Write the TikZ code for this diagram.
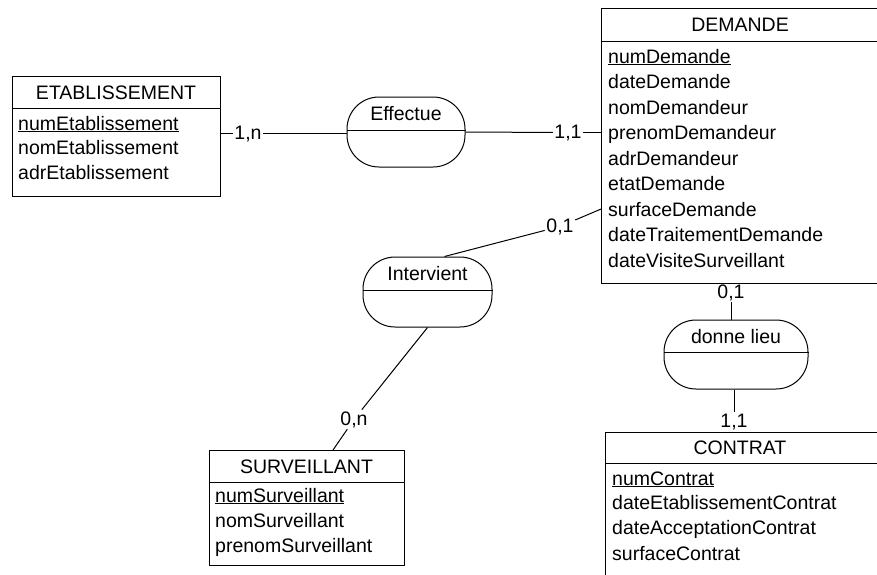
\documentclass[tikz,border=0pt]{standalone}
\usepackage{fontspec}
\setmainfont{Liberation Sans}
\newcommand{\erfont}{\fontsize{19.5}{22}\selectfont}
\tikzset{
  ent/.style={draw, line width=1pt, rectangle, anchor=north west, inner sep=0pt},
  assoc/.style={draw, line width=1pt, rectangle, rounded corners=32pt, inner sep=0pt},
  ttl/.style={anchor=base, inner sep=0pt, font=\erfont},
  attr/.style={anchor=base west, inner sep=0pt, font=\erfont},
  card/.style={anchor=base, inner sep=1.5pt, font=\erfont},
  conn/.style={line width=1pt},
  sep/.style={line width=1pt}
}
\begin{document}
\begin{tikzpicture}[x=1pt,y=-1pt]
\useasboundingbox (0,0) rectangle (877,574);
\clip (0,0) rectangle (877,574);

% ETABLISSEMENT
\node[ent, minimum width=208pt, minimum height=120pt] (etab) at (12,76) {};
\draw[sep] ([yshift=-32pt]etab.north west) -- ([yshift=-32pt]etab.north east);
\node[ttl] (etabT) at (116,99) {ETABLISSEMENT};
\node[attr] (etabA1) at (18,130) {\underline{numEtablissement}};
\node[attr] (etabA2) at (18,154.5) {nomEtablissement};
\node[attr] (etabA3) at (18,179) {adrEtablissement};

% DEMANDE
\node[ent, minimum width=279pt, minimum height=275pt] (dem) at (601,8) {};
\draw[sep] ([yshift=-33pt]dem.north west) -- ([yshift=-33pt]dem.north east);
\node[ttl] (demT) at (740,31) {DEMANDE};
\node[attr] (demA1) at (608,63) {\underline{numDemande}};
\node[attr] (demA2) at (608,88.5) {dateDemande};
\node[attr] (demA3) at (608,114) {nomDemandeur};
\node[attr] (demA4) at (608,139.5) {prenomDemandeur};
\node[attr] (demA5) at (608,165) {adrDemandeur};
\node[attr] (demA6) at (608,190.5) {etatDemande};
\node[attr] (demA7) at (608,216) {surfaceDemande};
\node[attr] (demA8) at (608,241.5) {dateTraitementDemande};
\node[attr] (demA9) at (608,267) {dateVisiteSurveillant};

% SURVEILLANT
\node[ent, minimum width=195pt, minimum height=115pt] (surv) at (209,450) {};
\draw[sep] ([yshift=-32pt]surv.north west) -- ([yshift=-32pt]surv.north east);
\node[ttl] (survT) at (306.5,473) {SURVEILLANT};
\node[attr] (survA1) at (215,502) {\underline{numSurveillant}};
\node[attr] (survA2) at (215,527) {nomSurveillant};
\node[attr] (survA3) at (215,552) {prenomSurveillant};

% CONTRAT
\node[ent, minimum width=275pt, minimum height=170pt] (con) at (605,432) {};
\draw[sep] ([yshift=-31pt]con.north west) -- ([yshift=-31pt]con.north east);
\node[ttl] (conT) at (740,454) {CONTRAT};
\node[attr] (conA1) at (612,485) {\underline{numContrat}};
\node[attr] (conA2) at (612,509.5) {dateEtablissementContrat};
\node[attr] (conA3) at (612,534.5) {dateAcceptationContrat};
\node[attr] (conA4) at (612,560) {surfaceContrat};

% Associations
\node[assoc, minimum width=118pt, minimum height=70pt] (eff) at (406,132) {};
\draw[sep] ([yshift=2pt]eff.west) -- ([yshift=2pt]eff.east);
\node[ttl] (effT) at (406,120) {Effectue};

\node[assoc, minimum width=129pt, minimum height=70pt] (int) at (427.5,292) {};
\draw[sep] ([yshift=2pt]int.west) -- ([yshift=2pt]int.east);
\node[ttl] (intT) at (427.5,280) {Intervient};

\node[assoc, minimum width=144pt, minimum height=69pt] (don) at (736,354.5) {};
\draw[sep] ([yshift=2.5pt]don.west) -- ([yshift=2.5pt]don.east);
\node[ttl] (donT) at (736,343) {donne lieu};

% Cardinalities
\node[card] (l1n) at (248,139) {1,n};
\node[card] (l11a) at (568,138) {1,1};
\node[card] (l01a) at (560,232) {0,1};
\node[card] (l0n) at (354,425) {0,n};
\node[card] (l01b) at (731,298) {0,1};
\node[card] (l11b) at (734,427) {1,1};

% Connectors
\draw[conn] (etab.east |- l1n) -- (l1n);
\draw[conn] (l1n) -- (eff.west |- l1n);
\draw[conn] (eff.east) -- (l11a);
\draw[conn] (l11a) -- (dem.west |- l11a);
\draw[conn] ([xshift=17pt]int.north) -- (l01a);
\draw[conn] (l01a) -- (dem.west |- demA7);
\draw[conn] (int.south) -- (l0n);
\draw[conn] (l0n) -- ([xshift=26pt]surv.north);
\draw[conn] (l01b) -- (l01b |- don.north);
\draw[conn] (don.south -| l11b) -- (l11b);
\end{tikzpicture}
\end{document}
